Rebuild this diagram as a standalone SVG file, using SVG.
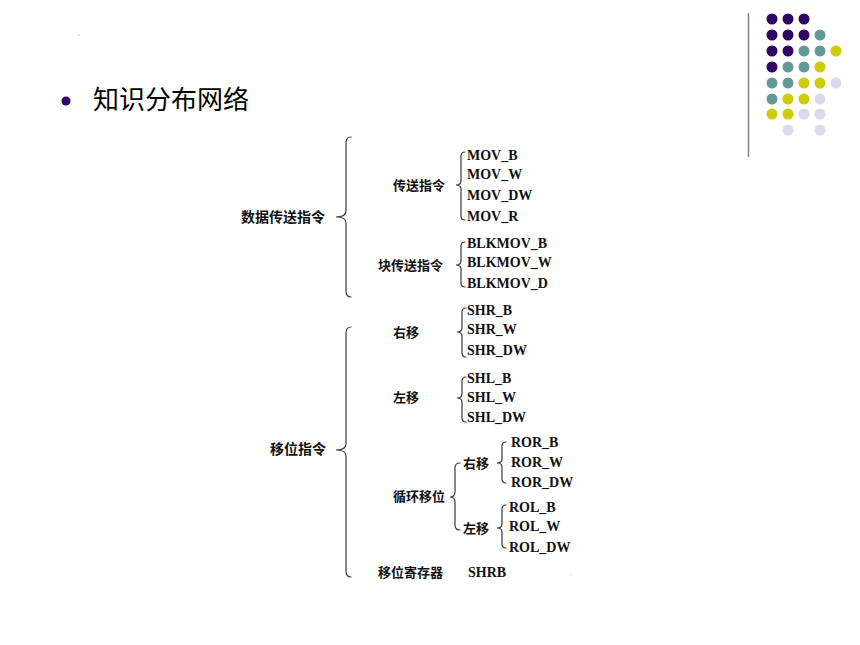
<svg xmlns="http://www.w3.org/2000/svg" width="860" height="645" viewBox="0 0 860 645">
<style>
.p{fill:#330066}.t{fill:#669999}.y{fill:#CCCC00}.l{fill:#DADAEC}
.br{fill:none;stroke:#3a3a3a;stroke-width:1.2;stroke-linecap:round}
.cn{font-family:"Noto Sans CJK SC","Noto Sans",sans-serif;font-weight:700;font-size:13px;fill:#111}
.cb{font-family:"Noto Sans CJK SC","Noto Sans",sans-serif;font-weight:700;font-size:14px;fill:#111}
.en{font-family:"Liberation Serif","Times New Roman",serif;font-weight:700;font-size:14px;fill:#111}
.title{font-family:"Noto Sans CJK SC","Noto Sans",sans-serif;font-size:26px;fill:#000}
</style>
<rect width="860" height="645" fill="#fff"/>
<g id="decor">
<line x1="748.5" y1="13" x2="748.5" y2="157" stroke="#808080" stroke-width="1.5"/>
<g>
<circle class="p" cx="772" cy="19" r="5.5"/><circle class="p" cx="788" cy="19" r="5.5"/><circle class="p" cx="804" cy="19" r="5.5"/>
<circle class="p" cx="772" cy="35" r="5.5"/><circle class="p" cx="788" cy="35" r="5.5"/><circle class="p" cx="804" cy="35" r="5.5"/><circle class="t" cx="820" cy="35" r="5.5"/>
<circle class="p" cx="772" cy="51" r="5.5"/><circle class="p" cx="788" cy="51" r="5.5"/><circle class="t" cx="804" cy="51" r="5.5"/><circle class="t" cx="820" cy="51" r="5.5"/><circle class="y" cx="836" cy="51" r="5.5"/>
<circle class="p" cx="772" cy="67" r="5.5"/><circle class="t" cx="788" cy="67" r="5.5"/><circle class="t" cx="804" cy="67" r="5.5"/><circle class="y" cx="820" cy="67" r="5.5"/>
<circle class="t" cx="772" cy="83" r="5.5"/><circle class="t" cx="788" cy="83" r="5.5"/><circle class="y" cx="804" cy="83" r="5.5"/><circle class="y" cx="820" cy="83" r="5.5"/><circle class="l" cx="836" cy="83" r="5.5"/>
<circle class="t" cx="772" cy="99" r="5.5"/><circle class="y" cx="788" cy="99" r="5.5"/><circle class="y" cx="804" cy="99" r="5.5"/><circle class="l" cx="820" cy="99" r="5.5"/>
<circle class="y" cx="772" cy="114" r="5.5"/><circle class="y" cx="788" cy="114" r="5.5"/><circle class="l" cx="804" cy="114" r="5.5"/><circle class="l" cx="820" cy="114" r="5.5"/>
<circle class="l" cx="788" cy="130" r="5.5"/><circle class="l" cx="820" cy="130" r="5.5"/>
</g>
<rect x="78.5" y="34.5" width="1" height="1" fill="#999"/>
<rect x="570.5" y="574.5" width="1" height="1" fill="#bbb"/>
</g>
<g id="title">
<circle cx="66" cy="101" r="4.5" fill="#330066"/>
<text class="title" x="93" y="109">知识分布网络</text>
</g>
<g id="connectors">
<path class="br" d="M351,137 Q346,137 346,143 L346,211 Q346,217 336,217 Q346,217 346,223 L346,291 Q346,297 351,297"/>
<path class="br" d="M465,152 Q461,152 461,156 L461,181 Q461,185 456,185 Q461,185 461,189 L461,216 Q461,220 465,220"/>
<path class="br" d="M465,242 Q461,242 461,246 L461,261 Q461,265 456,265 Q461,265 461,269 L461,283 Q461,287 465,287"/>
<path class="br" d="M351,327 Q346,327 346,333 L346,444 Q346,450 336,450 Q346,450 346,456 L346,571 Q346,577 351,577"/>
<path class="br" d="M466,308 Q462,308 462,312 L462,328 Q462,332 457,332 Q462,332 462,336 L462,353 Q462,357 466,357"/>
<path class="br" d="M466,377 Q462,377 462,381 L462,394 Q462,398 457,398 Q462,398 462,402 L462,418 Q462,422 466,422"/>
<path class="br" d="M460,463 Q455,463 455,468 L455,492 Q455,497 450,497 Q455,497 455,502 L455,525 Q455,530 460,530"/>
<path class="br" d="M506,442 Q502,442 502,446 L502,459 Q502,463 497,463 Q502,463 502,467 L502,479 Q502,483 506,483"/>
<path class="br" d="M506,505 Q502,505 502,509 L502,524 Q502,528 497,528 Q502,528 502,532 L502,544 Q502,548 506,548"/>
</g>
<g id="node-data">
<text class="cb" x="241" y="222">数据传送指令</text>
</g>
<g id="node-mov">
<text class="cn" x="393" y="190">传送指令</text>
<text class="en" x="467" y="160">MOV_B</text>
<text class="en" x="467" y="179">MOV_W</text>
<text class="en" x="467" y="200">MOV_DW</text>
<text class="en" x="467" y="221">MOV_R</text>
</g>
<g id="node-blkmov">
<text class="cn" x="378" y="270">块传送指令</text>
<text class="en" x="467" y="248">BLKMOV_B</text>
<text class="en" x="467" y="267">BLKMOV_W</text>
<text class="en" x="467" y="288">BLKMOV_D</text>
</g>
<g id="node-shift">
<text class="cb" x="270" y="454">移位指令</text>
</g>
<g id="node-shr">
<text class="cn" x="393" y="337">右移</text>
<text class="en" x="467" y="315">SHR_B</text>
<text class="en" x="467" y="334">SHR_W</text>
<text class="en" x="467" y="355">SHR_DW</text>
</g>
<g id="node-shl">
<text class="cn" x="393" y="402">左移</text>
<text class="en" x="467" y="383">SHL_B</text>
<text class="en" x="467" y="402">SHL_W</text>
<text class="en" x="467" y="422">SHL_DW</text>
</g>
<g id="node-rotate">
<text class="cn" x="393" y="501">循环移位</text>
</g>
<g id="node-ror">
<text class="cn" x="463" y="468">右移</text>
<text class="en" x="511" y="447">ROR_B</text>
<text class="en" x="511" y="467">ROR_W</text>
<text class="en" x="511" y="487">ROR_DW</text>
</g>
<g id="node-rol">
<text class="cn" x="463" y="533">左移</text>
<text class="en" x="509" y="512">ROL_B</text>
<text class="en" x="509" y="531">ROL_W</text>
<text class="en" x="509" y="552">ROL_DW</text>
</g>
<g id="node-shrb">
<text class="cn" x="378" y="577">移位寄存器</text>
<text class="en" x="468" y="577">SHRB</text>
</g>
</svg>
